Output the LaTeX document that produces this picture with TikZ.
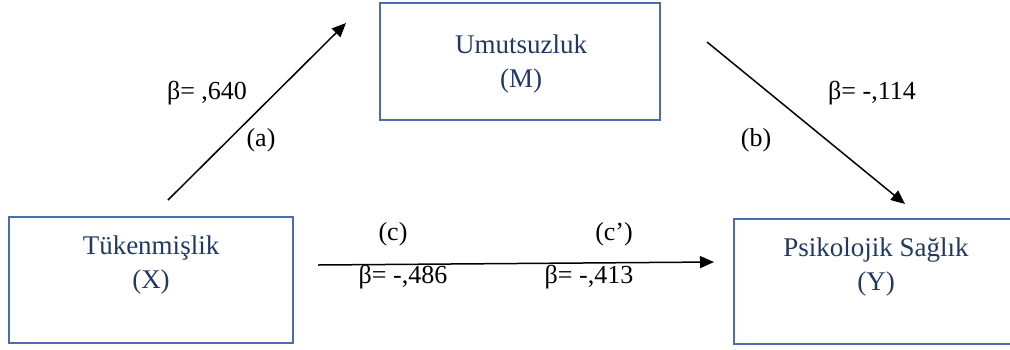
\documentclass[tikz,border=0pt]{standalone}
\usepackage{fontspec}
\setmainfont{Liberation Serif}
\usetikzlibrary{arrows.meta}
\definecolor{boxline}{RGB}{74,110,170}
\definecolor{boxtext}{RGB}{32,56,100}

\begin{document}
\begin{tikzpicture}[x=0.5pt, y=-0.5pt, line width=0.75pt, >={Triangle[length=7pt,width=6pt]},
    varbox/.style={draw=boxline, line width=0.8pt, inner sep=0pt},
    vartext/.style={text=boxtext, align=center, font=\fontsize{13.5}{17}\selectfont},
    coef/.style={font=\fontsize{13}{15}\selectfont}]
    \clip (0,0) rectangle (1010,349);
    % variables
    \node[varbox, minimum width=142pt, minimum height=63pt] (X) at (151,280) {};
    \node[varbox, minimum width=140pt, minimum height=58.5pt] (M) at (520,61.5) {};
    \node[varbox, minimum width=142pt, minimum height=62.5pt] (Y) at (876,281.5) {};
    \node[vartext] (Xt) at (151,265) {Tükenmişlik\\(X)};
    \node[vartext] (Mt) at (521,64) {Umutsuzluk\\(M)};
    \node[vartext] (Yt) at (876,267) {Psikolojik Sağlık\\(Y)};
    % path ends
    \coordinate (a0) at (168,200);
    \coordinate (a1) at (346,23);
    \coordinate (b0) at (707,42);
    \coordinate (b1) at (905,204);
    \coordinate (c0) at (318,265);
    \coordinate (c1) at (714,262);
    \draw[->] (a0) -- (a1);
    \draw[->] (b0) -- (b1);
    \draw[->] (c0) -- (c1);
    % coefficients
    \node[coef] (ba) at (207,93) {β= ,640};
    \node[coef] (la) at (261,140) {(a)};
    \node[coef] (bb) at (872,93) {β= -,114};
    \node[coef] (lb) at (756,140) {(b)};
    \node[coef] (lc) at (393,234) {(c)};
    \node[coef] (lcp) at (614,234) {(c’)};
    \node[coef] (bc) at (403,277) {β= -,486};
    \node[coef] (bcp) at (589,277) {β= -,413};
\end{tikzpicture}
\end{document}
